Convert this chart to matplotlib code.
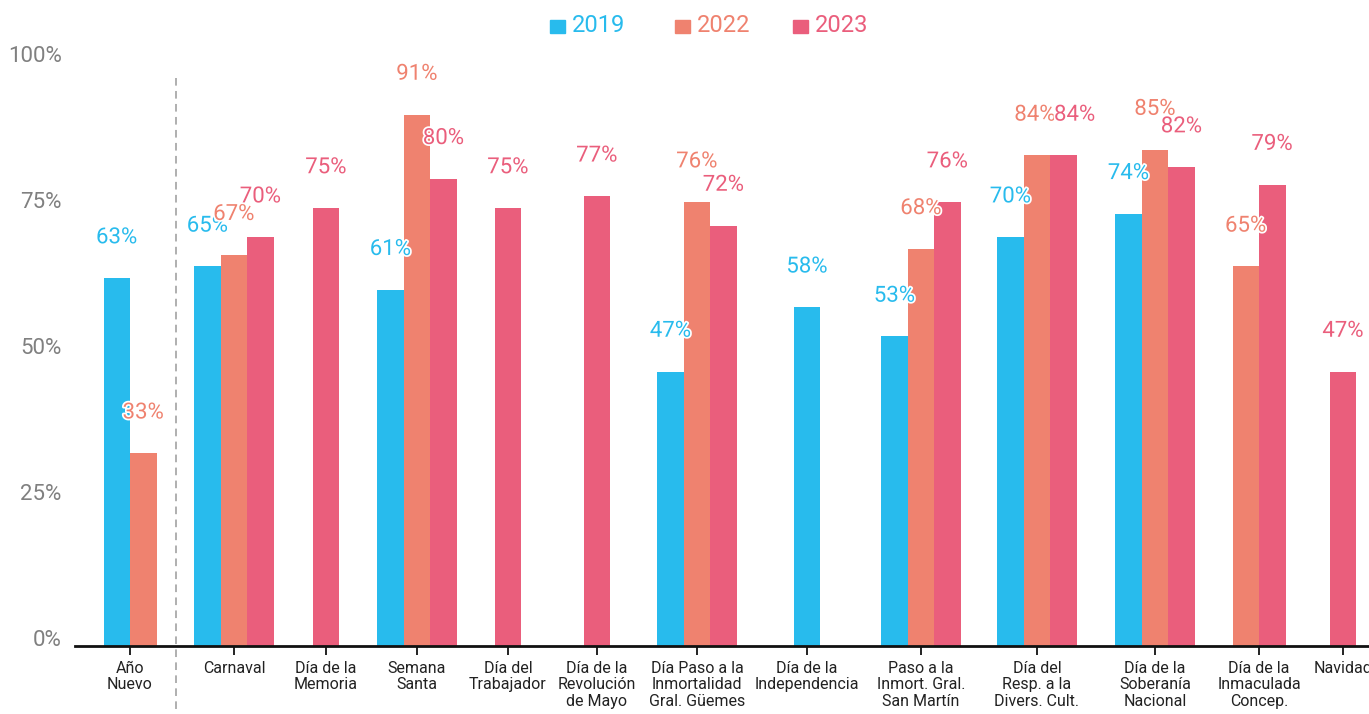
import matplotlib
matplotlib.use("Agg")
import matplotlib.pyplot as plt
import matplotlib.patheffects as pe
from matplotlib.patches import Rectangle

# ---------------- data ----------------
categories = [
    "Año\nNuevo", "Carnaval", "Día de la\nMemoria", "Semana\nSanta",
    "Día del\nTrabajador", "Día de la\nRevolución\nde Mayo",
    "Día Paso a la\nInmortalidad\nGral. Güemes", "Día de la\nIndependencia",
    "Paso a la\nInmort. Gral.\nSan Martín", "Día del\nResp. a la\nDivers. Cult.",
    "Día de la\nSoberanía\nNacional", "Día de la\nInmaculada\nConcep.", "Navidad",
]
series_names = ["2019", "2022", "2023"]
values_2019 = [63, 65, None, 61, None, None, 47, 58, 53, 70, 74, None, None]
values_2022 = [33, 67, None, 91, None, None, 76, None, 68, 84, 85, 65, None]
values_2023 = [None, 70, 75, 80, 75, 77, 72, None, 76, 84, 82, 79, 47]
y_ticks = [0, 25, 50, 75, 100]
y_tick_labels = ["0%", "25%", "50%", "75%", "100%"]

# ---------------- layout / style ----------------
W, H = 1369, 714
colors = ["#28bbed", "#ef826f", "#ea5e7c"]
# category centres (axis units = reference pixels, irregular spacing as in reference)
centres = [130, 234, 326, 417, 508, 597, 697, 807, 921, 1037, 1155, 1259, 1343]
bar_w = 26.5
# small horizontal nudges (points) for value labels that would collide: (category, series)
label_nudge = {(9, 1): -1.5, (9, 2): 8}

fig = plt.figure(figsize=(W / 100, H / 100), dpi=100)
ax_left, ax_bottom_px, ax_top_px = 75, 646, 62
ax = fig.add_axes([ax_left / W, (H - ax_bottom_px) / H,
                   1 - ax_left / W, (ax_bottom_px - ax_top_px) / H])
ax.set_xlim(ax_left, W)
ax.set_ylim(0, 100)

all_series = [values_2019, values_2022, values_2023]
label_font = dict(family=["Roboto", "DejaVu Sans"], fontsize=16, fontweight="normal")
outline = [pe.withStroke(linewidth=2.5, foreground="white")]

for ci, c in enumerate(centres):
    present = [si for si in range(3) if all_series[si][ci] is not None]
    n = len(present)
    for k, si in enumerate(present):
        v = all_series[si][ci]
        x = c + (k - (n - 1) / 2) * bar_w
        ax.bar(x, v, width=bar_w, color=colors[si], linewidth=0, zorder=2)
        dx = label_nudge.get((ci, si), 0)
        ax.annotate(f"{v}%", xy=(x, v), xytext=(dx, 29), textcoords="offset points",
                    ha="center", va="center", color=colors[si],
                    path_effects=outline, zorder=5, annotation_clip=False,
                    **label_font)

# axes styling
for s in ["top", "right", "left"]:
    ax.spines[s].set_visible(False)
ax.spines["bottom"].set_linewidth(2)
ax.spines["bottom"].set_color("#111111")
ax.spines["bottom"].set_zorder(4)

ax.set_yticks(y_ticks)
ax.set_yticklabels(y_tick_labels, color="#808080", fontsize=16,
                   family=["Roboto", "DejaVu Sans"], fontweight="normal")
for lbl in ax.get_yticklabels():
    lbl.set_va("baseline")
ax.tick_params(axis="y", length=0, pad=9.5)

ax.set_xticks(centres)
ax.set_xticklabels(categories, fontsize=11.5, color="#222222",
                   family=["Roboto", "DejaVu Sans"], linespacing=1.15)
ax.tick_params(axis="x", length=6.5, width=1.3, color="#111111", pad=4)

# dashed separator after Año Nuevo
ax.plot([176, 176], [(646 - 78) / 584, (646 - 720) / 584], color="#9a9a9a",
        lw=1.1, ls=(0, (5, 3.5)), transform=ax.get_xaxis_transform(),
        clip_on=False, zorder=1)

# legend
leg_sq_x = [550, 675, 793]
for si, name in enumerate(series_names):
    x0 = leg_sq_x[si]
    fig.patches.append(Rectangle((x0 / W, 1 - 33 / H), 15 / W, 13 / H,
                                 transform=fig.transFigure, color=colors[si]))
    fig.text((x0 + 22) / W, 1 - 26 / H, name, color=colors[si], va="center",
             ha="left", fontsize=17, family=["Roboto", "DejaVu Sans"],
             fontweight="normal")

fig.savefig("out.png", dpi=100)
